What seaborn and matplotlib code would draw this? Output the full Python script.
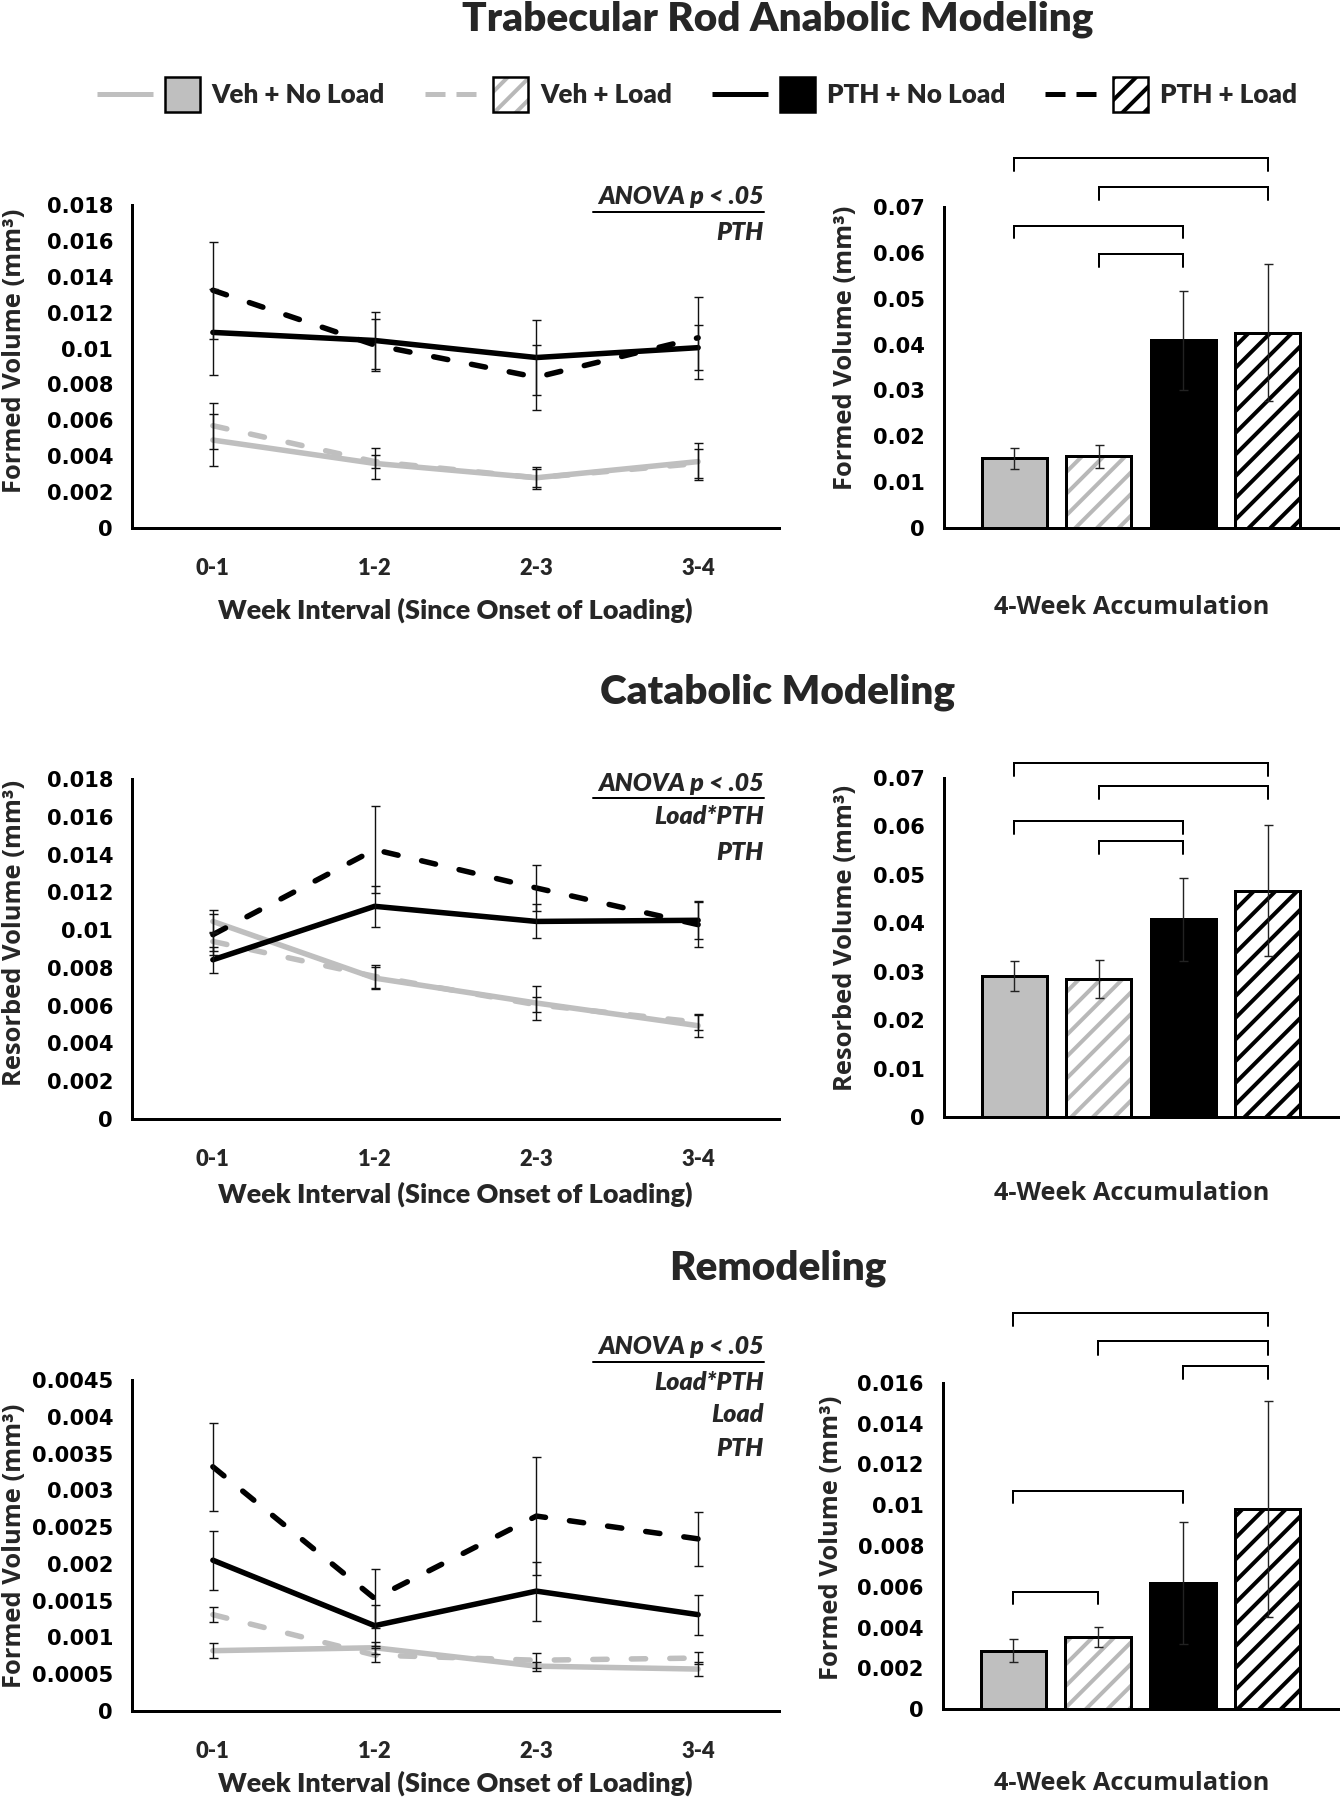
import numpy as np
import pandas as pd
import matplotlib
matplotlib.use("Agg")
import matplotlib.pyplot as plt
import seaborn as sns
from matplotlib.lines import Line2D
from matplotlib.patches import Rectangle
from matplotlib.legend_handler import HandlerBase
from matplotlib.ticker import MultipleLocator, FuncFormatter
from matplotlib.font_manager import FontProperties

# ---------------- data ----------------
groups = ["Veh + No Load", "Veh + Load", "PTH + No Load", "PTH + Load"]
intervals = ["0-1", "1-2", "2-3", "3-4"]

# Panel 1: Trabecular rod anabolic modeling (formed volume, mm^3)
anab_veh_noload = [0.0049, 0.0036, 0.0028, 0.0037]
anab_veh_load = [0.0057, 0.0037, 0.0028, 0.0036]
anab_pth_noload = [0.0109, 0.01045, 0.0095, 0.01005]
anab_pth_load = [0.01325, 0.0102, 0.0084, 0.0106]
anab_veh_noload_err = [0.00145, 0.00086, 0.0006, 0.00104]
anab_veh_load_err = [0.00128, 0.00037, 0.0005, 0.0008]
anab_pth_noload_err = [0.0024, 0.0016, 0.0021, 0.00127]
anab_pth_load_err = [0.0027, 0.00145, 0.0018, 0.0023]
anab_total = [0.0152, 0.0156, 0.0409, 0.0426]
anab_total_err = [0.0023, 0.0025, 0.0108, 0.0149]
anab_pairs = [(0, 3), (1, 3), (0, 2), (1, 2)]
anab_pair_top = [0.0807, 0.0744, 0.0659, 0.0597]
anab_pair_leg = [0.0778, 0.0715, 0.0632, 0.0569]
anab_effects = ["PTH"]

# Panel 2: Catabolic modeling (resorbed volume, mm^3)
cata_veh_noload = [0.01046, 0.00746, 0.00614, 0.00494]
cata_veh_load = [0.0094, 0.00755, 0.00605, 0.00512]
cata_pth_noload = [0.00843, 0.01126, 0.01046, 0.01052]
cata_pth_load = [0.00976, 0.01426, 0.01223, 0.01029]
cata_veh_noload_err = [0.0006, 0.0006, 0.0009, 0.0006]
cata_veh_load_err = [0.0005, 0.0006, 0.0004, 0.0004]
cata_pth_noload_err = [0.0007, 0.0011, 0.0009, 0.0010]
cata_pth_load_err = [0.0011, 0.0023, 0.0012, 0.0012]
cata_total = [0.0291, 0.0285, 0.0408, 0.0467]
cata_total_err = [0.0031, 0.0040, 0.0086, 0.0135]
cata_pairs = [(0, 3), (1, 3), (0, 2), (1, 2)]
cata_pair_top = [0.0731, 0.0684, 0.0612, 0.0570]
cata_pair_leg = [0.0705, 0.0657, 0.0585, 0.0543]
cata_effects = ["Load*PTH", "PTH"]

# Panel 3: Remodeling (formed volume, mm^3)
remo_veh_noload = [0.00082, 0.00086, 0.00061, 0.00057]
remo_veh_load = [0.00131, 0.00076, 0.00069, 0.00072]
remo_pth_noload = [0.00205, 0.00116, 0.00163, 0.00131]
remo_pth_load = [0.00332, 0.00153, 0.00265, 0.00234]
remo_veh_noload_err = [0.0001, 0.00008, 0.00006, 0.00009]
remo_veh_load_err = [0.0001, 0.0001, 0.0001, 0.00008]
remo_pth_noload_err = [0.0004, 0.00028, 0.0004, 0.00027]
remo_pth_load_err = [0.0006, 0.0004, 0.0008, 0.00037]
remo_total = [0.00287, 0.00353, 0.00617, 0.00981]
remo_total_err = [0.00055, 0.0005, 0.0030, 0.0053]
remo_pairs = [(0, 3), (1, 3), (2, 3), (0, 2), (0, 1)]
remo_pair_top = [0.01943, 0.01804, 0.01682, 0.01071, 0.00576]
remo_pair_leg = [0.01882, 0.01739, 0.01621, 0.01009, 0.00516]
remo_effects = ["Load*PTH", "Load", "PTH"]

titles = ["Trabecular Rod Anabolic Modeling", "Catabolic Modeling", "Remodeling"]
ylabels = ["Formed Volume (mm³)", "Resorbed Volume (mm³)", "Formed Volume (mm³)"]
line_xlabel = "Week Interval (Since Onset of Loading)"
bar_xlabel = "4-Week Accumulation"

# ---------------- style ----------------
W, H, DPI = 1341, 1800, 130


def pt(px):
    return px * 72.0 / DPI


sns.set_style("white")
plt.rcParams["font.family"] = ["Lato", "DejaVu Sans"]
plt.rcParams["hatch.linewidth"] = pt(4.0)

GREY = "#BFBFBF"
BLACK = "#000000"
line_colors = dict(zip(groups, [GREY, GREY, BLACK, BLACK]))
line_dashes = dict(zip(groups, ["", (2.6, 4.4), "", (2.6, 4.4)]))
bar_faces = [GREY, "white", BLACK, "white"]
bar_hatch = [None, "//", None, "//"]
bar_hatch_color = [None, "#B8B8B8", None, BLACK]

F_CAL = "Lato"
W_CAL = "heavy"
F_WIDE = "DejaVu Sans"
F_LAB = ["Open Sans", "DejaVu Sans"]

fig = plt.figure(figsize=(W / DPI, H / DPI), dpi=DPI)
fig.patch.set_facecolor("white")


def rect(x0, x1, ytop, ybot):
    return [x0 / W, 1 - ybot / H, (x1 - x0) / W, (ybot - ytop) / H]


def fmt(v, pos):
    if abs(v) < 1e-12:
        return "0"
    return f"{v:g}"


def style_axes(ax):
    for s in ["top", "right"]:
        ax.spines[s].set_visible(False)
    for s in ["left", "bottom"]:
        ax.spines[s].set_linewidth(pt(3))
        ax.spines[s].set_color("black")
    ax.tick_params(axis="y", direction="out", length=pt(8), width=pt(2.5),
                   pad=pt(11), labelsize=pt(21), colors="black")
    for lab in ax.get_yticklabels():
        lab.set_fontfamily(F_WIDE)
        lab.set_fontweight("bold")
    ax.yaxis.set_major_formatter(FuncFormatter(fmt))
    ax.grid(False)


panels = [
    dict(lines=[anab_veh_noload, anab_veh_load, anab_pth_noload, anab_pth_load],
         errs=[anab_veh_noload_err, anab_veh_load_err, anab_pth_noload_err, anab_pth_load_err],
         total=anab_total, total_err=anab_total_err, pairs=anab_pairs,
         ptop=anab_pair_top, pleg=anab_pair_leg, effects=anab_effects,
         ylim=0.018, ystep=0.002, bylim=0.07, bystep=0.01,
         lrect=rect(132, 779, 205, 528), brect=rect(944, 1338, 207, 528),
         title_y=19, ann_y=[197, 233], lxl=82, bxl=80, lyl=16, byl=20, bylx=846),
    dict(lines=[cata_veh_noload, cata_veh_load, cata_pth_noload, cata_pth_load],
         errs=[cata_veh_noload_err, cata_veh_load_err, cata_pth_noload_err, cata_pth_load_err],
         total=cata_total, total_err=cata_total_err, pairs=cata_pairs,
         ptop=cata_pair_top, pleg=cata_pair_leg, effects=cata_effects,
         ylim=0.018, ystep=0.002, bylim=0.07, bystep=0.01,
         lrect=rect(132, 779, 779, 1119), brect=rect(944, 1338, 778, 1117),
         title_y=692, ann_y=[783, 817, 852], lxl=75, bxl=76, lyl=16, byl=10, bylx=846),
    dict(lines=[remo_veh_noload, remo_veh_load, remo_pth_noload, remo_pth_load],
         errs=[remo_veh_noload_err, remo_veh_load_err, remo_pth_noload_err, remo_pth_load_err],
         total=remo_total, total_err=remo_total_err, pairs=remo_pairs,
         ptop=remo_pair_top, pleg=remo_pair_leg, effects=remo_effects,
         ylim=0.0045, ystep=0.0005, bylim=0.016, bystep=0.002,
         lrect=rect(132, 779, 1380, 1711), brect=rect(943, 1338, 1383, 1709),
         title_y=1268, ann_y=[1347, 1382, 1415, 1448], lxl=72, bxl=74, lyl=0, byl=8, bylx=831),
]

ann_texts = []
for k, P in enumerate(panels):
    # ---------- line plot ----------
    ax = fig.add_axes(P["lrect"])
    df = pd.DataFrame({
        "Interval": intervals * 4,
        "Group": np.repeat(groups, len(intervals)),
        "Volume": np.concatenate(P["lines"]),
    })
    sns.lineplot(data=df, x="Interval", y="Volume", hue="Group", style="Group",
                 hue_order=groups, style_order=groups, palette=line_colors,
                 dashes=line_dashes, linewidth=pt(5.5), sort=False,
                 errorbar=None, legend=False, ax=ax)
    for ln in ax.lines:
        ln.set_solid_capstyle("round")
        ln.set_dash_capstyle("round")
        ln.set_solid_joinstyle("round")
        ln.set_dash_joinstyle("round")
    xpos = np.arange(len(intervals))
    for vals, errs in zip(P["lines"], P["errs"]):
        ax.errorbar(xpos, vals, yerr=errs, fmt="none", ecolor="#111111",
                    elinewidth=pt(1.4), capsize=pt(4.5), capthick=pt(1.4), zorder=6)
    ax.set_xlim(-0.5, len(intervals) - 0.5)
    ax.set_ylim(0, P["ylim"])
    ax.yaxis.set_major_locator(MultipleLocator(P["ystep"]))
    ax.set_xticks(xpos)
    ax.set_xticklabels(intervals, fontfamily=F_CAL, fontweight=W_CAL, fontsize=pt(22))
    ax.set_xticks(np.arange(len(intervals) + 1) - 0.5, minor=True)
    ax.tick_params(axis="x", which="major", length=0, pad=pt(30))
    ax.tick_params(axis="x", which="minor", direction="out", length=pt(9), width=pt(2.5))
    style_axes(ax)
    ax.set_xlabel(line_xlabel, fontfamily=F_CAL, fontweight=W_CAL, fontsize=pt(27))
    ax.set_ylabel(ylabels[k], fontfamily=F_LAB, fontweight="bold", fontsize=pt(25.5))
    hpx = P["lrect"][3] * H
    wpx = P["lrect"][2] * W
    ax.xaxis.set_label_coords(0.5, -P["lxl"] / hpx)
    ax.xaxis.label.set_va("center")
    ax.yaxis.set_label_coords((15 - 132) / wpx, 0.5 + P["lyl"] / hpx)
    ax.yaxis.label.set_va("center")

    # ---------- bar plot ----------
    bx = fig.add_axes(P["brect"])
    sns.barplot(x=groups, y=P["total"], hue=groups, hue_order=groups, order=groups,
                palette=bar_faces, saturation=1, width=0.77, legend=False,
                edgecolor="black", linewidth=pt(3), ax=bx)
    bars = list(bx.patches)[:len(groups)]
    for i, p in enumerate(bars):
        if bar_hatch[i]:
            p.set_facecolor("white")
            p.set_hatch(bar_hatch[i])
            p.set_edgecolor(bar_hatch_color[i])
            p.set_linewidth(0)
            bx.add_patch(Rectangle((p.get_x(), p.get_y()), p.get_width(), p.get_height(),
                                   fill=False, edgecolor="black", linewidth=pt(3), zorder=p.get_zorder() + 0.1))
    bpos = np.arange(len(groups))
    bx.errorbar(bpos, P["total"], yerr=P["total_err"], fmt="none", ecolor="#222222",
                elinewidth=pt(1.4), capsize=pt(4.5), capthick=pt(1.4), zorder=6)
    for (i, j), top, leg in zip(P["pairs"], P["ptop"], P["pleg"]):
        bx.plot([bpos[i], bpos[i], bpos[j], bpos[j]], [leg, top, top, leg],
                color="black", lw=pt(2), clip_on=False, solid_joinstyle="miter", zorder=7)
    bx.set_xlim(-0.83, len(groups) - 1 + 0.83)
    bx.set_ylim(0, P["bylim"])
    bx.yaxis.set_major_locator(MultipleLocator(P["bystep"]))
    bx.set_xticks([-0.83, len(groups) - 1 + 0.83])
    bx.set_xticklabels(["", ""])
    bx.tick_params(axis="x", direction="out", length=pt(9), width=pt(2.5))
    style_axes(bx)
    bx.set_xlabel(bar_xlabel, fontfamily=F_LAB, fontweight="bold", fontsize=pt(25.4))
    bx.set_ylabel(ylabels[k], fontfamily=F_LAB, fontweight="bold", fontsize=pt(25.5))
    bh = P["brect"][3] * H
    bw = P["brect"][2] * W
    bx.xaxis.set_label_coords(0.5 - 9 / bw, -P["bxl"] / bh)
    bx.xaxis.label.set_va("center")
    bx.yaxis.set_label_coords((P["bylx"] - P["brect"][0] * W) / bw, 0.5 + P["byl"] / bh)
    bx.yaxis.label.set_va("center")

    # ---------- title & stats annotation ----------
    fig.text(778 / W, 1 - P["title_y"] / H, titles[k], ha="center", va="center",
             fontfamily=F_CAL, fontweight=W_CAL, fontsize=pt(40.5))
    lines_txt = ["ANOVA p < .05"] + P["effects"]
    for t, ypx in zip(lines_txt, P["ann_y"]):
        tt = fig.text(764 / W, 1 - ypx / H, t, ha="right", va="center",
                      fontfamily=F_CAL, fontweight=W_CAL, fontstyle="italic", fontsize=pt(25))
        if t.startswith("ANOVA"):
            ann_texts.append((tt, ypx))


# ---------------- legend ----------------
class LegendKey:
    def __init__(self, color, dashed, face, hatch, hatch_color):
        self.color = color
        self.dashed = dashed
        self.face = face
        self.hatch = hatch
        self.hatch_color = hatch_color


class LegendKeyHandler(HandlerBase):
    def create_artists(self, legend, key, xdescent, ydescent, width, height, fontsize, trans):
        y = height / 2 - ydescent
        x0 = -xdescent
        line_len, gap, box = pt(56), pt(12), pt(35)
        ln = Line2D([x0, x0 + line_len], [y, y], color=key.color, lw=pt(5),
                    solid_capstyle="butt", dash_capstyle="butt")
        if key.dashed:
            ln.set_dashes((4.0, 2.2))
        ln.set_transform(trans)
        bx0 = x0 + line_len + gap
        arts = [ln]
        if key.hatch:
            hp = Rectangle((bx0, y - box / 2), box, box, facecolor="white",
                           edgecolor=key.hatch_color, hatch=key.hatch, lw=0)
            hp.set_transform(trans)
            arts.append(hp)
            out = Rectangle((bx0, y - box / 2), box, box, fill=False,
                            edgecolor="black", lw=pt(2.5))
        else:
            out = Rectangle((bx0, y - box / 2), box, box, facecolor=key.face,
                            edgecolor="black", lw=pt(2.5))
        out.set_transform(trans)
        arts.append(out)
        return arts


keys = [LegendKey(line_colors[g], line_dashes[g] != "", bar_faces[i], bar_hatch[i], bar_hatch_color[i])
        for i, g in enumerate(groups)]
fs = pt(26)
fig.legend(handles=keys, labels=groups, handler_map={LegendKey: LegendKeyHandler()},
           ncol=4, loc="center", bbox_to_anchor=(697 / W, 1 - 95 / H), frameon=False,
           handlelength=pt(103) / fs, handleheight=1.0, handletextpad=pt(12) / fs,
           columnspacing=pt(40) / fs, borderpad=0,
           prop=FontProperties(family=F_CAL, weight=W_CAL, size=fs))

# underline the ANOVA headers
fig.canvas.draw()
renderer = fig.canvas.get_renderer()
for tt, ypx in ann_texts:
    bb = tt.get_window_extent(renderer)
    x0 = (bb.x0 - 5) / fig.bbox.width
    x1 = bb.x1 / fig.bbox.width
    yy = 1 - (ypx + 15) / H
    fig.add_artist(Line2D([x0, x1], [yy, yy], transform=fig.transFigure,
                          color="black", lw=pt(2)))

fig.savefig("out.png", dpi=DPI, facecolor="white")
